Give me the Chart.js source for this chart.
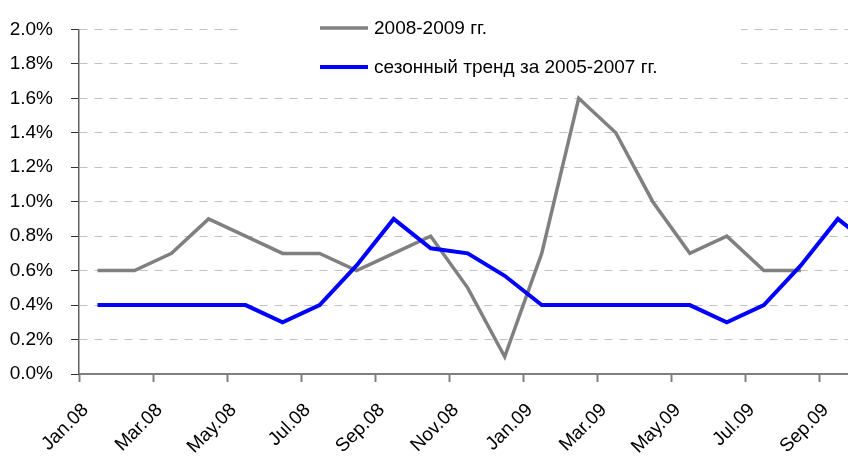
<!DOCTYPE html>
<html>
<head>
<meta charset="utf-8">
<script src="https://cdn.jsdelivr.net/npm/chart.js@4.4.0/dist/chart.umd.min.js"></script>
<style>
  html, body { margin: 0; padding: 0; background: #fff; overflow: hidden; }
  #wrap { width: 848px; height: 462px; overflow: hidden; }
</style>
</head>
<body>
<div id="wrap"><canvas id="myLineChart" width="908" height="462"></canvas></div>
<script>
const months = [
    'Jan.08', 'Feb.08', 'Mar.08', 'Apr.08', 'May.08', 'Jun.08',
    'Jul.08', 'Aug.08', 'Sep.08', 'Oct.08', 'Nov.08', 'Dec.08',
    'Jan.09', 'Feb.09', 'Mar.09', 'Apr.09', 'May.09', 'Jun.09',
    'Jul.09', 'Aug.09', 'Sep.09', 'Oct.09'
];
// monthly values, %
const actual = [0.6, 0.6, 0.7, 0.9, 0.8, 0.7, 0.7, 0.6, 0.7, 0.8, 0.5, 0.1,
                0.7, 1.6, 1.4, 1.0, 0.7, 0.8, 0.6, 0.6, null, null];
const seasonal = [0.4, 0.4, 0.4, 0.4, 0.4, 0.3, 0.4, 0.63, 0.9, 0.73, 0.7, 0.57,
                  0.4, 0.4, 0.4, 0.4, 0.4, 0.3, 0.4, 0.63, 0.9, 0.73];
const seriesNames = ['2008-2009 гг.', 'сезонный тренд за 2005-2007 гг.'];
const yTicks = [0, 0.2, 0.4, 0.6, 0.8, 1.0, 1.2, 1.4, 1.6, 1.8, 2.0];

const FONT = "'Liberation Sans', Arial, sans-serif";

// legend sits inside the plot on a white box, like the original
const boxLegend = {
    id: 'boxLegend',
    afterDraw(chart) {
        const ctx = chart.ctx;
        ctx.save();
        ctx.fillStyle = '#ffffff';
        ctx.fillRect(238, 10, 503, 74);
        ctx.font = '19px ' + FONT;
        ctx.textBaseline = 'middle';
        ctx.fillStyle = '#000000';
        chart.data.datasets.forEach((ds, i) => {
            const y = 28 + i * 39;
            ctx.strokeStyle = ds.borderColor;
            ctx.lineWidth = ds.borderWidth;
            ctx.beginPath();
            ctx.moveTo(320, y);
            ctx.lineTo(368, y);
            ctx.stroke();
            ctx.fillText(ds.label, 374, y + 1);
        });
        ctx.restore();
    }
};

const renderChart = () => {
    var ctx = document.getElementById('myLineChart').getContext('2d');
    new Chart(ctx, {
        type: 'line',
        data: {
            labels: months,
            datasets: [{
                label: seriesNames[0],
                data: actual,
                borderColor: '#808080',
                borderWidth: 3.5,
                pointRadius: 0,
                tension: 0,
                order: 2
            }, {
                label: seriesNames[1],
                data: seasonal,
                borderColor: '#0000ff',
                borderWidth: 4,
                pointRadius: 0,
                tension: 0,
                order: 1
            }]
        },
        options: {
            responsive: false,
            animation: false,
            layout: { padding: { top: 28, left: 0, right: 0, bottom: 0 } },
            plugins: {
                legend: { display: false },
                tooltip: { enabled: false }
            },
            scales: {
                x: {
                    offset: true,
                    afterFit: s => { s.height = 88; },
                    grid: {
                        offset: true,
                        drawOnChartArea: false,
                        tickLength: 8,
                        tickWidth: 2,
                        tickColor: c => (c.index % 2 === 0 ? '#808080' : 'rgba(0,0,0,0)')
                    },
                    border: { color: '#808080', width: 2 },
                    ticks: {
                        autoSkip: false,
                        minRotation: 45,
                        maxRotation: 45,
                        labelOffset: -12,
                        padding: 17,
                        color: '#000000',
                        font: { family: FONT, size: 19 },
                        callback: (v, i) => (i % 2 === 0 ? months[i] : '')
                    }
                },
                y: {
                    min: 0,
                    max: 2.0,
                    afterFit: s => { s.width = 79; },
                    afterBuildTicks: s => { s.ticks = yTicks.map(v => ({ value: v })); },
                    grid: {
                        color: '#c0c0c0',
                        lineWidth: 1,
                        tickLength: 8,
                        tickColor: '#303030',
                        tickWidth: 1
                    },
                    border: { color: '#606060', width: 1.5, dash: [8, 7] },
                    ticks: {
                        padding: 18,
                        color: '#000000',
                        font: { family: FONT, size: 19 },
                        callback: v => v.toFixed(1) + '%'
                    }
                }
            }
        },
        plugins: [boxLegend]
    });
};

document.addEventListener('DOMContentLoaded', renderChart);
</script>
</body>
</html>
